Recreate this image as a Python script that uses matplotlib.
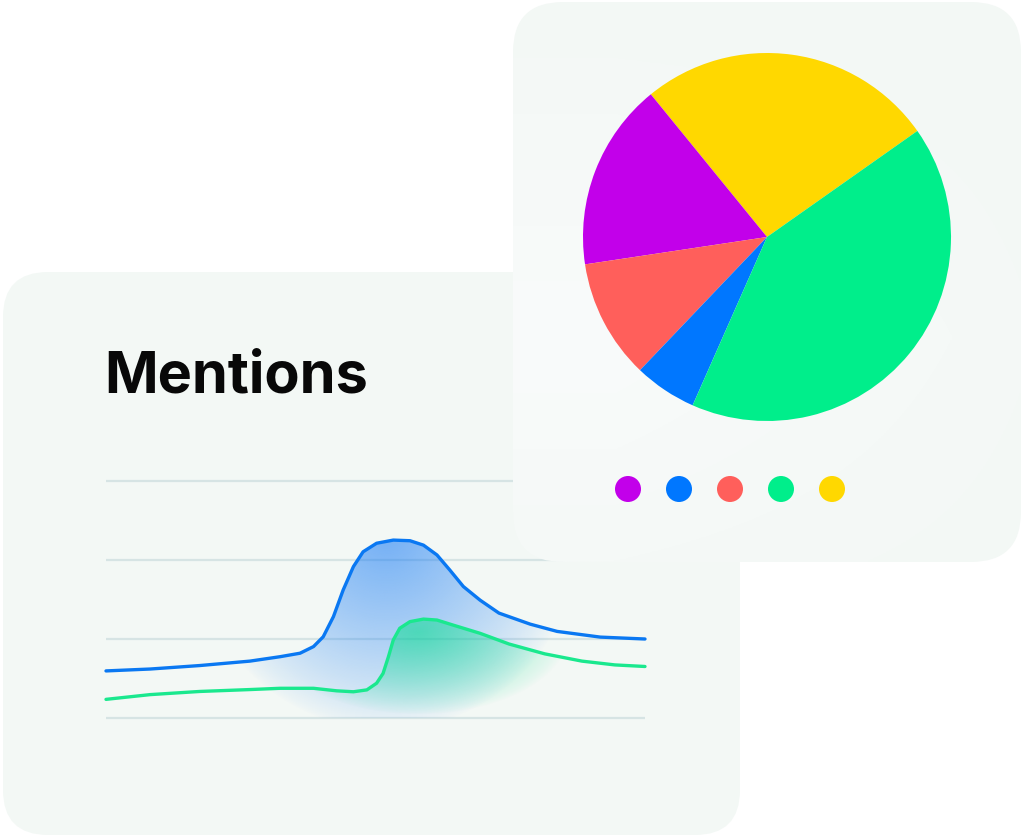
import numpy as np
import matplotlib.pyplot as plt
from matplotlib.patches import FancyBboxPatch, Circle, Polygon
from matplotlib.colors import to_rgb

# --- data -------------------------------------------------------------
# line chart: x in % of the period, y in mentions
blue_x = [0, 8.2, 17.4, 26.7, 32.3, 36.0, 38.5, 40.3, 42.2, 44.0, 45.9, 47.7, 50.2,
          53.3, 56.4, 58.9, 61.4, 63.8, 66.3, 69.4, 72.9, 78.7, 83.7, 91.7, 100]
blue_y = [14.9, 15.5, 16.6, 18.0, 19.4, 20.5, 22.6, 25.7, 32.1, 40.5, 47.9, 52.6, 55.3,
          56.3, 56.1, 54.7, 51.6, 46.8, 41.6, 37.3, 33.2, 29.7, 27.4, 25.6, 25.0]
green_x = [0, 8.2, 17.4, 26.7, 32.3, 38.5, 42.8, 45.9, 48.4, 50.2, 51.4, 52.4, 53.3,
           54.5, 56.4, 58.9, 61.4, 64.4, 69.4, 74.8, 81.4, 88.3, 94.4, 100]
green_y = [5.9, 7.4, 8.4, 9.0, 9.4, 9.4, 8.6, 8.3, 8.9, 11.0, 14.1, 19.4, 24.7,
           28.4, 30.5, 31.3, 31.0, 29.4, 26.8, 23.4, 20.3, 18.0, 16.8, 16.3]
grid_vals = [0, 25, 50, 75]

# pie chart (legend order)
pie_labels = ['purple', 'blue', 'red', 'green', 'yellow']
pie_values = [16.5, 5.5, 10.5, 41.4, 26.1]
pie_colors = ['#c200ea', '#0077ff', '#ff5f5b', '#00ee8b', '#ffd800']
pie_draw_order = ['yellow', 'purple', 'red', 'blue', 'green']

W, H = 1024, 838
fig = plt.figure(figsize=(W / 100, H / 100), dpi=100)
fig.patch.set_facecolor('white')


def frac(x0, y0, x1, y1):
    # pixel box (top-left origin) -> figure fraction rect
    return [x0 / W, 1 - y1 / H, (x1 - x0) / W, (y1 - y0) / H]


# back card
ax_bg = fig.add_axes([0, 0, 1, 1], zorder=0)
ax_bg.set_xlim(0, W)
ax_bg.set_ylim(H, 0)
ax_bg.axis('off')
back = FancyBboxPatch((3 + 45, 272 + 45), 737 - 90, 563 - 90,
                      boxstyle='round,pad=45', fc='#f3f8f5', ec='none')
ax_bg.add_patch(back)
ax_bg.text(104, 392, 'Mentions', fontsize=41.5, fontweight='bold',
           family=['Inter', 'DejaVu Sans'], color='#080808', va='baseline')

# line chart
ax = fig.add_axes(frac(106, 470, 645, 725), zorder=1)
ax.patch.set_alpha(0)
ax.set_xlim(0, 100)
ax.set_ylim(-(725 - 718) * 25 / 79, (718 - 470) * 25 / 79)
ax.axis('off')
ax.hlines(grid_vals, -0.4, 100, color='#d6e4e4', lw=1.6, zorder=1)

gx, gy = np.meshgrid(np.linspace(0, 100, 400), np.linspace(-3, 80, 300))

# blue glow
d = np.sqrt(((gx - 52) / 36) ** 2 + ((gy - 58) / 62) ** 2)
img = np.zeros(gx.shape + (4,))
img[..., :3] = to_rgb('#0a74f5')
img[..., 3] = 0.55 * np.clip(1 - d, 0, 1) ** 0.8
im = ax.imshow(img, extent=[0, 100, -3, 80], origin='lower', aspect='auto', zorder=2)
clip = Polygon(np.column_stack([blue_x + [100, 0], blue_y + [0, 0]]),
               fc='none', ec='none', transform=ax.transData)
ax.add_patch(clip)
im.set_clip_path(clip)

# green glow
d = np.sqrt(((gx - 58) / 28) ** 2 + ((gy - 27) / 26) ** 2)
img = np.zeros(gx.shape + (4,))
img[..., :3] = to_rgb('#00e08a')
img[..., 3] = 0.55 * np.clip(1 - d, 0, 1) ** 0.8
im2 = ax.imshow(img, extent=[0, 100, -3, 80], origin='lower', aspect='auto', zorder=3)
clip2 = Polygon(np.column_stack([green_x + [100, 0], green_y + [0, 0]]),
                fc='none', ec='none', transform=ax.transData)
ax.add_patch(clip2)
im2.set_clip_path(clip2)

ax.plot(blue_x, blue_y, color='#0a78f2', lw=2.4, solid_capstyle='round',
        solid_joinstyle='round', zorder=5, clip_on=False)
ax.plot(green_x, green_y, color='#1ae88e', lw=2.4, solid_capstyle='round',
        solid_joinstyle='round', zorder=4, clip_on=False)

# front card
ax_fc = fig.add_axes([0, 0, 1, 1], zorder=2)
ax_fc.patch.set_alpha(0)
ax_fc.set_xlim(0, W)
ax_fc.set_ylim(H, 0)
ax_fc.axis('off')
front = FancyBboxPatch((513 + 50, 2 + 50), 508 - 100, 560 - 100,
                       boxstyle='round,pad=50', fc='none', ec='none')
ax_fc.add_patch(front)
fy, fx = np.mgrid[0:1:200j, 0:1:200j]
top = np.array(to_rgb('#f3f8f5'))
mid = np.array(to_rgb('#f9fbfb'))
w = np.clip(1 - np.abs(fy - 0.6) / 0.6, 0, 1)[..., None] * np.clip(1.2 - fx, 0, 1)[..., None]
grad = top * (1 - w) + mid * w
fim = ax_fc.imshow(grad, extent=[513, 1021, 562, 2], aspect='auto', zorder=1)
fim.set_clip_path(front)

for i, name in enumerate(pie_labels):
    ax_fc.add_patch(Circle((628 + 51 * i, 489), 13, fc=pie_colors[i], ec='none', zorder=3))

# pie
ax_pie = fig.add_axes(frac(583, 53, 951, 421), zorder=3)
ax_pie.patch.set_alpha(0)
idx = [pie_labels.index(n) for n in pie_draw_order]
ax_pie.pie([pie_values[i] for i in idx], colors=[pie_colors[i] for i in idx],
           startangle=35.2, counterclock=True, radius=1,
           wedgeprops=dict(linewidth=0))
ax_pie.set_xlim(-1, 1)
ax_pie.set_ylim(-1, 1)
ax_pie.set_aspect('equal')

fig.savefig('out.png', dpi=100, facecolor='white')
